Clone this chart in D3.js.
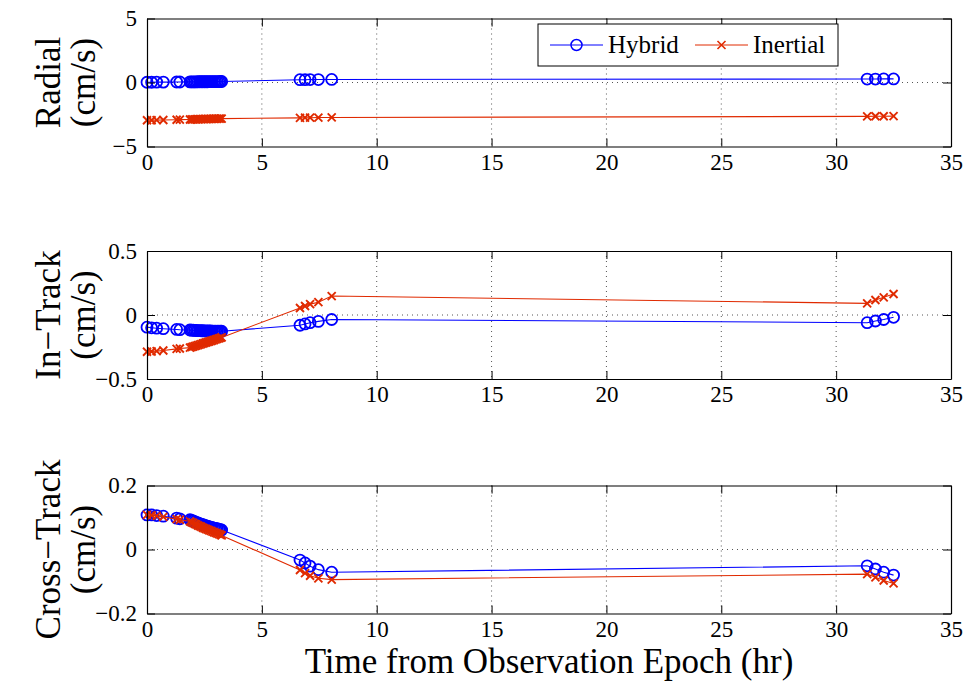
<!DOCTYPE html>
<html>
<head>
<meta charset="utf-8">
<script src="https://cdn.jsdelivr.net/npm/d3@7"></script>
<style>
  html, body { margin: 0; padding: 0; background: #fff; }
  svg { display: block; }
</style>
</head>
<body>
<svg id="chart" width="969" height="687" font-family="'Liberation Serif'"></svg>
<script>
// ---------------- data ----------------
const times = [0, 0.2, 0.42, 0.71, 1.29, 1.43,
  1.87, 1.94, 2.01, 2.08, 2.15, 2.22, 2.29, 2.36, 2.43, 2.5, 2.57, 2.64, 2.71, 2.78, 2.85, 2.92, 2.99, 3.06, 3.13, 3.2, 3.25,
  6.66, 6.88, 7.1, 7.46, 8.04,
  31.35, 31.71, 32.07, 32.5];

const radialHybrid = [0.02, 0.02, 0.03, 0.03, 0.04, 0.04,
  0.05, 0.05, 0.05, 0.05, 0.05, 0.06, 0.06, 0.06, 0.06, 0.06, 0.06, 0.06, 0.07, 0.07, 0.07, 0.07, 0.07, 0.07, 0.07, 0.08, 0.08,
  0.22, 0.22, 0.23, 0.23, 0.24,
  0.27, 0.27, 0.28, 0.28];
const radialInertial = [-2.95, -2.95, -2.94, -2.93, -2.91, -2.9,
  -2.89, -2.89, -2.88, -2.88, -2.87, -2.87, -2.86, -2.86, -2.86, -2.85, -2.85, -2.85, -2.84, -2.84, -2.84, -2.83, -2.83, -2.83, -2.82, -2.82, -2.82,
  -2.76, -2.75, -2.75, -2.74, -2.73,
  -2.65, -2.64, -2.64, -2.63];

const inTrackHybrid = [-0.095, -0.1, -0.103, -0.107, -0.113, -0.115,
  -0.117, -0.118, -0.119, -0.12, -0.121, -0.122, -0.122, -0.123, -0.123, -0.124, -0.124, -0.125, -0.125, -0.125, -0.126, -0.126, -0.126, -0.126, -0.127, -0.127, -0.127,
  -0.08, -0.07, -0.06, -0.05, -0.035,
  -0.06, -0.047, -0.035, -0.018];
const inTrackInertial = [-0.287, -0.285, -0.282, -0.277, -0.265, -0.262,
  -0.255, -0.251, -0.247, -0.243, -0.239, -0.235, -0.231, -0.227, -0.223, -0.219, -0.215, -0.211, -0.207, -0.203, -0.199, -0.195, -0.191, -0.187, -0.183, -0.179, -0.175,
  0.055, 0.07, 0.085, 0.1, 0.148,
  0.091, 0.117, 0.138, 0.164];

const crossTrackHybrid = [0.108, 0.108, 0.106, 0.104, 0.098, 0.096,
  0.093, 0.091, 0.089, 0.087, 0.085, 0.083, 0.081, 0.079, 0.078, 0.076, 0.074, 0.073, 0.071, 0.07, 0.068, 0.067, 0.066, 0.065, 0.063, 0.062, 0.061,
  -0.033, -0.042, -0.052, -0.063, -0.071,
  -0.051, -0.061, -0.071, -0.08];
const crossTrackInertial = [0.108, 0.107, 0.105, 0.102, 0.095, 0.093,
  0.088, 0.085, 0.083, 0.08, 0.078, 0.075, 0.073, 0.071, 0.068, 0.066, 0.064, 0.062, 0.06, 0.058, 0.056, 0.054, 0.052, 0.05, 0.048, 0.046, 0.044,
  -0.064, -0.074, -0.082, -0.09, -0.094,
  -0.077, -0.087, -0.097, -0.106];

const xTicks = [0, 5, 10, 15, 20, 25, 30, 35];
const radialTicks = [-5, 0, 5];
const inTrackTicks = [-0.5, 0, 0.5];
const crossTrackTicks = [-0.2, 0, 0.2];
const panelLabels = [["Radial", "(cm/s)"], ["In\u2212Track", "(cm/s)"], ["Cross\u2212Track", "(cm/s)"]];
const seriesNames = ["Hybrid", "Inertial"];
const xTitle = "Time from Observation Epoch (hr)";

// ---------------- layout ----------------
const FONT = "'Liberation Serif'";
const svg = d3.select("#chart");
const left = 147, right = 951;
const panelTops = [18.5, 251, 485.5];
const panelH = 128;
const colors = { Hybrid: "#0000ff", Inertial: "#e02a00" };
const tickFont = 23;

const x = d3.scaleLinear().domain([0, 35]).range([left, right]);

const panels = [
  { ticks: radialTicks, hybrid: radialHybrid, inertial: radialInertial, label: panelLabels[0] },
  { ticks: inTrackTicks, hybrid: inTrackHybrid, inertial: inTrackInertial, label: panelLabels[1] },
  { ticks: crossTrackTicks, hybrid: crossTrackHybrid, inertial: crossTrackInertial, label: panelLabels[2] }
];

const fmt = d => d === 0 ? "0" : d3.format("")(d);

panels.forEach((p, i) => {
  const top = panelTops[i], bottom = top + panelH;
  const y = d3.scaleLinear().domain([p.ticks[0], p.ticks[2]]).range([bottom, top]);
  const g = svg.append("g");

  // grid (dotted)
  g.append("g").selectAll("line").data(xTicks.slice(1, -1)).join("line")
    .attr("x1", d => x(d)).attr("x2", d => x(d)).attr("y1", top).attr("y2", bottom)
    .attr("stroke", "#555").attr("stroke-width", 1).attr("stroke-dasharray", "1,4");
  g.append("g").selectAll("line").data([p.ticks[1]]).join("line")
    .attr("x1", left).attr("x2", right).attr("y1", d => y(d)).attr("y2", d => y(d))
    .attr("stroke", "#555").attr("stroke-width", 1).attr("stroke-dasharray", "1,4");

  // series
  const line = d3.line().x((d, k) => x(times[k])).y(d => y(d));
  [["Hybrid", p.hybrid], ["Inertial", p.inertial]].forEach(([name, vals]) => {
    const c = colors[name];
    g.append("path").datum(vals).attr("d", line)
      .attr("fill", "none").attr("stroke", c).attr("stroke-width", 1.1);
    if (name === "Hybrid") {
      g.append("g").selectAll("circle").data(vals).join("circle")
        .attr("cx", (d, k) => x(times[k])).attr("cy", d => y(d)).attr("r", 5.5)
        .attr("fill", "none").attr("stroke", c).attr("stroke-width", 1.8);
    } else {
      const s = 4;
      g.append("g").selectAll("path").data(vals).join("path")
        .attr("d", (d, k) => {
          const cx = x(times[k]), cy = y(d);
          return `M${cx - s},${cy - s}L${cx + s},${cy + s}M${cx - s},${cy + s}L${cx + s},${cy - s}`;
        })
        .attr("fill", "none").attr("stroke", c).attr("stroke-width", 1.9);
    }
  });

  // axes (ticks inward, MATLAB style box)
  const ax = g.append("g");
  const bAx = ax.append("g").attr("transform", `translate(0,${bottom})`)
    .call(d3.axisBottom(x).tickValues(xTicks).tickSizeInner(-8).tickSizeOuter(0).tickPadding(6).tickFormat(fmt));
  const tAx = ax.append("g").attr("transform", `translate(0,${top})`)
    .call(d3.axisTop(x).tickValues(xTicks).tickSizeInner(-8).tickSizeOuter(0).tickFormat(""));
  const lAx = ax.append("g").attr("transform", `translate(${left},0)`)
    .call(d3.axisLeft(y).tickValues(p.ticks).tickSizeInner(-8).tickSizeOuter(0).tickPadding(10).tickFormat(fmt));
  const rAx = ax.append("g").attr("transform", `translate(${right},0)`)
    .call(d3.axisRight(y).tickValues(p.ticks).tickSizeInner(-8).tickSizeOuter(0).tickFormat(""));
  [bAx, tAx, lAx, rAx].forEach(a => {
    a.attr("font-family", FONT).attr("font-size", tickFont);
    a.selectAll(".domain").attr("stroke", "#000").attr("stroke-width", 1.2);
    a.selectAll(".tick line").attr("stroke", "#000").attr("stroke-width", 1);
    a.selectAll("text").attr("fill", "#000");
  });
  bAx.selectAll("text").attr("dy", "0.75em");

  // y label (two lines, rotated)
  const yc = (top + bottom) / 2;
  [[p.label[0], 60], [p.label[1], 95]].forEach(([t, bx]) => {
    svg.append("text")
      .attr("transform", `translate(${bx},${yc}) rotate(-90)`)
      .attr("text-anchor", "middle")
      .attr("font-size", 35)
      .attr("fill", "#000")
      .text(t);
  });
});

// x title
svg.append("text").attr("x", (left + right) / 2).attr("y", 673)
  .attr("text-anchor", "middle").attr("font-size", 35).attr("fill", "#000").text(xTitle);

// legend
const lg = svg.append("g");
lg.append("rect").attr("x", 538).attr("y", 24).attr("width", 300).attr("height", 42)
  .attr("fill", "#fff").attr("stroke", "#000").attr("stroke-width", 1);
const legendItems = [
  { name: seriesNames[0], x0: 550 },
  { name: seriesNames[1], x0: 695 }
];
legendItems.forEach(it => {
  const c = colors[it.name], ly = 45, cx = it.x0 + 26.5;
  lg.append("line").attr("x1", it.x0).attr("x2", it.x0 + 53).attr("y1", ly).attr("y2", ly)
    .attr("stroke", c).attr("stroke-width", 1);
  if (it.name === "Hybrid") {
    lg.append("circle").attr("cx", cx).attr("cy", ly).attr("r", 5.5)
      .attr("fill", "none").attr("stroke", c).attr("stroke-width", 1.5);
  } else {
    const s = 4;
    lg.append("path").attr("d", `M${cx - s},${ly - s}L${cx + s},${ly + s}M${cx - s},${ly + s}L${cx + s},${ly - s}`)
      .attr("stroke", c).attr("stroke-width", 1.6);
  }
  lg.append("text").attr("x", it.x0 + 58).attr("y", 53).attr("font-size", 25).attr("fill", "#000").text(it.name);
});

svg.selectAll("text").attr("font-family", FONT);
</script>
</body>
</html>
